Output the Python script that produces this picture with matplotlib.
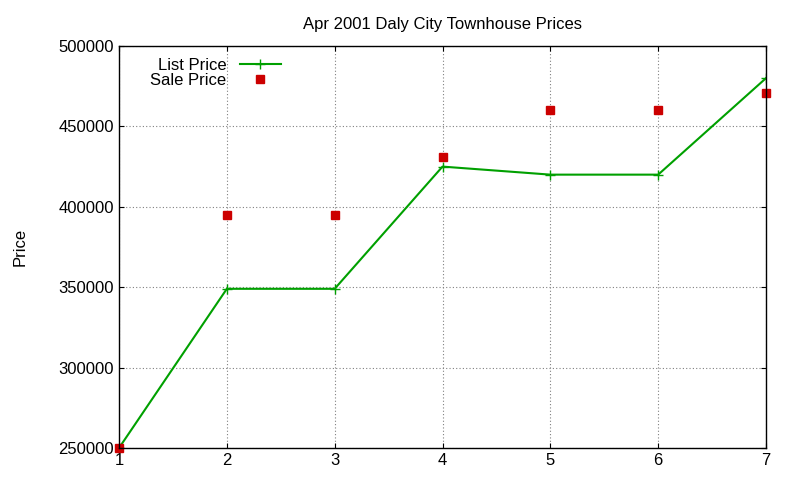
import matplotlib
matplotlib.use("Agg")
import matplotlib.pyplot as plt

plt.rcParams['font.family'] = ['Liberation Sans', 'DejaVu Sans']

x = [1, 2, 3, 4, 5, 6, 7]
list_price = [250000, 349000, 349000, 425000, 420000, 420000, 480000]
sale_price = [250000, 395000, 395000, 431000, 460000, 460000, 471000]
yticks = [250000, 300000, 350000, 400000, 450000, 500000]

fig = plt.figure(figsize=(8, 4.8), dpi=100)
ax = fig.add_axes([119/800, 1-448/480, (766-119)/800, (448-46)/480])
ax.plot(x, list_price, color="#00a000", marker="+", markersize=7, lw=1.5, label="List Price")
ax.plot(x, sale_price, color="#cc0000", marker="s", markersize=6, ls="none", label="Sale Price", clip_on=False)
ax.set_xlim(1, 7)
ax.set_ylim(250000, 500000)
ax.set_xticks(x)
ax.set_yticks(yticks)
ax.grid(True, color="#808080", ls=(0, (1, 2)), lw=0.8)
ax.tick_params(direction="in", top=True, right=True, labelsize=12)
ax.set_ylabel("Price", fontsize=12, labelpad=22)
ax.set_title("Apr 2001 Daly City Townhouse Prices", fontsize=12, pad=12)
for s in ax.spines.values():
    s.set_linewidth(1)
leg = ax.legend(loc="upper left", bbox_to_anchor=(0.03, 1.0), frameon=False, fontsize=12,
                markerfirst=False, handlelength=2.5, borderpad=0.2, labelspacing=0.0)
for t in leg.get_texts():
    t.set_ha("right")
fig.savefig("out.png", dpi=100)
